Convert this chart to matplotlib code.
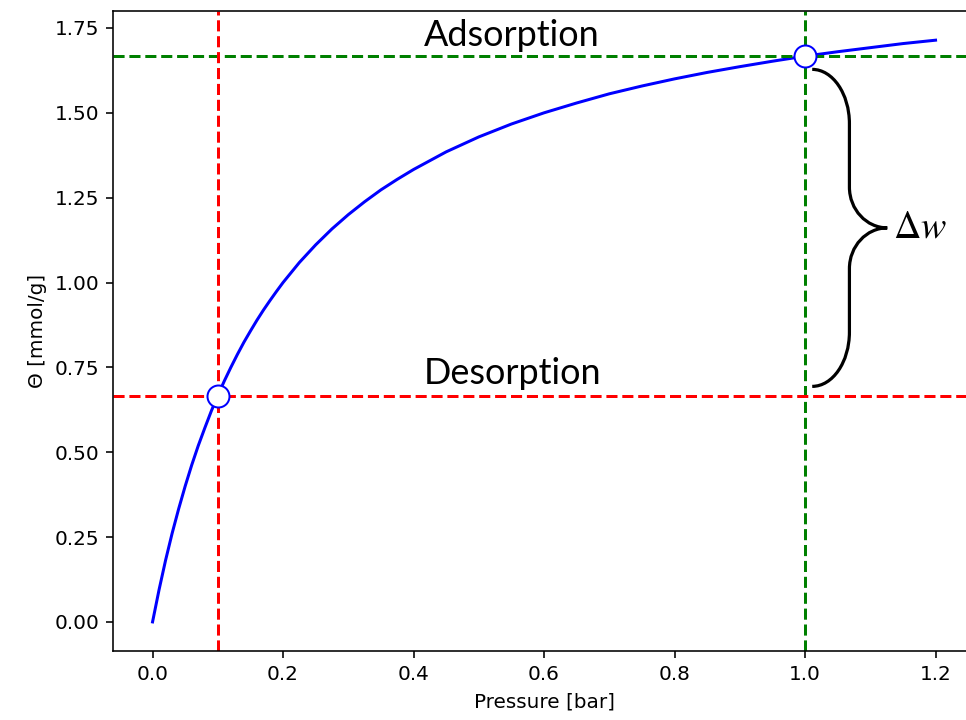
import matplotlib
matplotlib.use("Agg")
import matplotlib.pyplot as plt
from matplotlib.path import Path
from matplotlib.patches import PathPatch

# Изотерма адсорбции: давление [bar] и загрузка [mmol/g]
pressure = [0.00, 0.01, 0.02, 0.03, 0.04, 0.05, 0.06, 0.07, 0.08, 0.09, 0.10,
            0.11, 0.12, 0.13, 0.14, 0.15, 0.16, 0.17, 0.18, 0.19, 0.20,
            0.225, 0.25, 0.275, 0.30, 0.325, 0.35, 0.375, 0.40, 0.45, 0.50,
            0.55, 0.60, 0.65, 0.70, 0.75, 0.80, 0.85, 0.90, 0.95, 1.00,
            1.05, 1.10, 1.15, 1.20]
theta = [0.000, 0.095, 0.182, 0.261, 0.333, 0.400, 0.462, 0.519, 0.571, 0.621, 0.667,
         0.710, 0.750, 0.788, 0.824, 0.857, 0.889, 0.919, 0.947, 0.974, 1.000,
         1.059, 1.111, 1.158, 1.200, 1.238, 1.273, 1.304, 1.333, 1.385, 1.429,
         1.467, 1.500, 1.529, 1.556, 1.579, 1.600, 1.619, 1.636, 1.652, 1.667,
         1.680, 1.692, 1.704, 1.714]

# Рабочие точки цикла
p_des, theta_des = 0.1, 0.667   # десорбция
p_ads, theta_ads = 1.0, 1.667   # адсорбция

fig = plt.figure(figsize=(966 / 144, 720 / 144), dpi=144)
# правая граница осей немного за краем картинки
ax = fig.add_axes([113.4 / 966, 69 / 720, 861.3 / 966, 640 / 720])

ax.plot(pressure, theta, 'b-', lw=1.5)
ax.axhline(theta_ads, color='g', ls='--', lw=1.5)
ax.axvline(p_ads, color='g', ls='--', lw=1.5)
ax.axhline(theta_des, color='r', ls='--', lw=1.5)
ax.axvline(p_des, color='r', ls='--', lw=1.5)
ax.plot([p_des, p_ads], [theta_des, theta_ads], 'o', ms=11, mfc='white',
        mec='b', mew=1.0, zorder=5)

ax.set_xlim(-0.06, 1.26)
ax.set_ylim(-0.0857, 1.80)
ax.set_xlabel("Pressure [bar]")
ax.set_ylabel("Θ [mmol/g]")

# Подписи уровней
ax.text(0.551, 1.697, "Adsorption", ha='center', va='baseline',
        fontsize=18, family='Lato')
ax.text(0.551, 0.701, "Desorption", ha='center', va='baseline',
        fontsize=18, family='Lato')

# Фигурная скобка между уровнями
x0, xm, xt = 1.011, 1.068, 1.126
yt, yb, ymid = 1.628, 0.694, 1.161
r_end = 0.16    # скругление концов
r_tip = 0.12    # скругление у острия
k = 0.55
verts = [
    (x0, yt), (x0 + k * (xm - x0), yt), (xm, yt - (1 - k) * r_end), (xm, yt - r_end),
    (xm, ymid + r_tip),
    (xm, ymid + (1 - k) * r_tip), (xt - k * (xt - xm), ymid), (xt, ymid),
    (xt - k * (xt - xm), ymid), (xm, ymid - (1 - k) * r_tip), (xm, ymid - r_tip),
    (xm, yb + r_end),
    (xm, yb + (1 - k) * r_end), (x0 + k * (xm - x0), yb), (x0, yb),
]
codes = [Path.MOVETO, Path.CURVE4, Path.CURVE4, Path.CURVE4,
         Path.LINETO,
         Path.CURVE4, Path.CURVE4, Path.CURVE4,
         Path.CURVE4, Path.CURVE4, Path.CURVE4,
         Path.LINETO,
         Path.CURVE4, Path.CURVE4, Path.CURVE4]
ax.add_patch(PathPatch(Path(verts, codes), fill=False, lw=1.6, color='black'))

plt.rcParams['mathtext.fontset'] = 'stix'
ax.text(1.135, 1.161, r"$\Delta w$", ha='left', va='center', fontsize=19)

fig.savefig("out.png", dpi=144)
